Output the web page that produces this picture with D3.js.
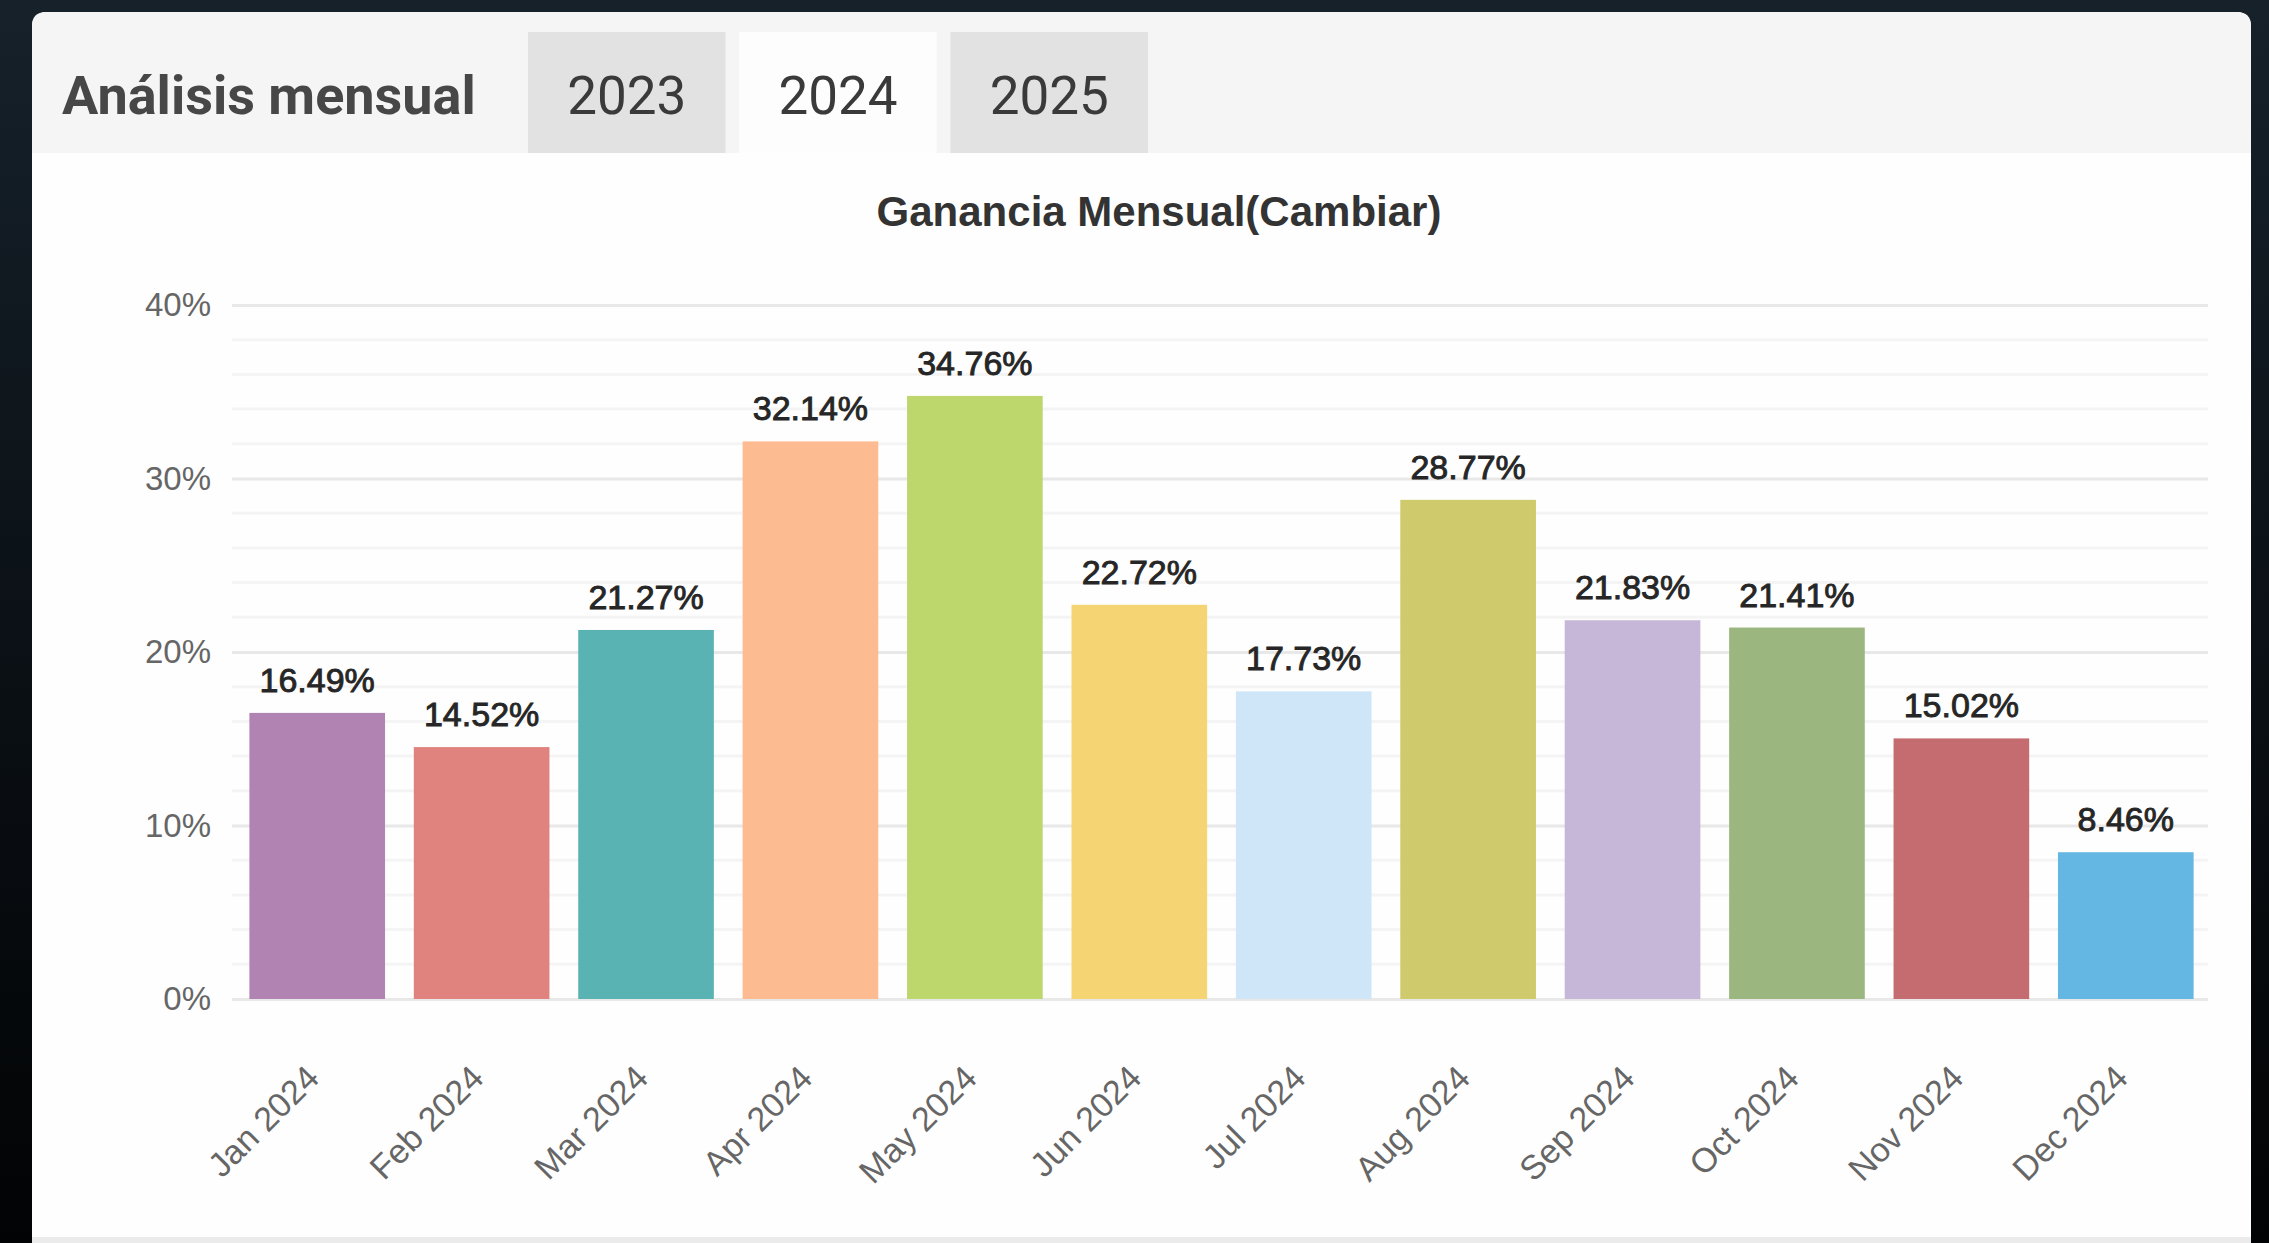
<!DOCTYPE html>
<html>
<head>
<meta charset="utf-8">
<script src="https://cdnjs.cloudflare.com/ajax/libs/d3/7.8.5/d3.min.js"></script>
<style>
  body { margin: 0; background: #05090c; overflow: hidden; }
</style>
</head>
<body>
<div class="canvas"></div>
<script>
// chart data.
const months = ['Jan 2024','Feb 2024','Mar 2024','Apr 2024','May 2024','Jun 2024',
                'Jul 2024','Aug 2024','Sep 2024','Oct 2024','Nov 2024','Dec 2024'];
const gains = [16.49, 14.52, 21.27, 32.14, 34.76, 22.72, 17.73, 28.77, 21.83, 21.41, 15.02, 8.46];
const barColors = ['#b183b3','#e0837f','#5ab3b3','#fdbb92','#bdd76c','#f5d474',
                   '#cfe5f8','#cfcb6c','#c6b6d8','#9cb67f','#c56c70','#65b7e3'];
const years = ['2023','2024','2025'];
const activeYear = '2024';
const yTicks = [0, 10, 20, 30, 40];
const yMinorTicks = d3.range(0, 41, 2);
const headerTitle = 'Análisis mensual';
const chartTitle = 'Ganancia Mensual(Cambiar)';

// dimensions.
const svgDimensions = { width: 2269, height: 1243 };
const card = { left: 32, right: 2251, top: 12, header: 153 };
const plot = { left: 235, right: 2208, top: 305, bottom: 999 };

const svg = d3.select('.canvas')
    .append('svg')
        .attr('width', svgDimensions.width)
        .attr('height', svgDimensions.height)
        .style('display', 'block');

// dark page background.
const bg = svg.append('defs').append('linearGradient')
    .attr('id', 'bg').attr('x1', 0).attr('y1', 0).attr('x2', 0).attr('y2', 1);
bg.append('stop').attr('offset', 0).attr('stop-color', '#16212a');
bg.append('stop').attr('offset', 0.5).attr('stop-color', '#0b1116');
bg.append('stop').attr('offset', 1).attr('stop-color', '#020304');
svg.append('rect')
    .attr('width', svgDimensions.width)
    .attr('height', svgDimensions.height)
    .attr('fill', 'url(#bg)');

// card with the header band.
svg.append('rect')
    .attr('x', card.left).attr('y', card.top)
    .attr('width', card.right - card.left)
    .attr('height', svgDimensions.height - card.top + 20)
    .attr('rx', 14)
    .attr('fill', '#fefefe');
svg.append('path')
    .attr('d', `M${card.left},${card.header} V${card.top + 14} Q${card.left},${card.top} ${card.left + 14},${card.top}
                H${card.right - 14} Q${card.right},${card.top} ${card.right},${card.top + 14} V${card.header} Z`)
    .attr('fill', '#f5f5f5');
svg.append('rect')
    .attr('x', card.left).attr('y', 1237)
    .attr('width', card.right - card.left).attr('height', 6)
    .attr('fill', '#ebebeb');

svg.append('text')
    .attr('x', 62).attr('y', 114)
    .attr('font-family', 'Roboto, sans-serif')
    .attr('font-weight', 'bold')
    .attr('font-size', 54)
    .attr('fill', '#474747')
    .text(headerTitle);

// year tabs.
const tabX = d3.scaleBand()
    .domain(years)
    .range([528, 1148])
    .paddingInner(0.065);

const tabs = svg.append('g').selectAll('g')
    .data(years)
    .enter()
    .append('g');

tabs.append('rect')
    .attr('x', d => tabX(d))
    .attr('y', 32)
    .attr('width', tabX.bandwidth())
    .attr('height', card.header - 32)
    .attr('fill', d => d === activeYear ? '#fdfdfd' : '#e2e2e2');

tabs.append('text')
    .attr('x', d => tabX(d) + tabX.bandwidth() / 2)
    .attr('y', 114)
    .attr('text-anchor', 'middle')
    .attr('font-family', 'Roboto, sans-serif')
    .attr('font-size', 53)
    .attr('fill', '#3a3a3a')
    .text(d => d);

// chart title.
svg.append('text')
    .attr('x', 1159).attr('y', 226)
    .attr('text-anchor', 'middle')
    .attr('font-family', '"Liberation Sans", Arial, sans-serif')
    .attr('font-weight', 'bold')
    .attr('font-size', 42)
    .attr('fill', '#333')
    .text(chartTitle);

// scales.
const x = d3.scaleBand()
    .domain(months)
    .range([plot.left, plot.right])
    .paddingInner(0.175)
    .paddingOuter(0.0875);

const y = d3.scaleLinear()
    .domain([0, 40])
    .range([plot.bottom, plot.top]);

const graph = svg.append('g');

// grid lines.
graph.append('g').selectAll('line')
    .data(yMinorTicks.filter(t => t % 10 !== 0))
    .enter()
    .append('line')
        .attr('x1', plot.left - 3).attr('x2', plot.right)
        .attr('y1', d => y(d)).attr('y2', d => y(d))
        .attr('stroke', '#f4f4f4')
        .attr('stroke-width', 3);

const yAxis = d3.axisLeft(y)
    .tickValues(yTicks)
    .tickSize(-(plot.right - plot.left + 3))
    .tickPadding(21)
    .tickFormat(d => d + '%');

graph.append('g')
    .attr('transform', `translate(${plot.left - 3},0)`)
    .call(yAxis)
    .call(g => g.select('.domain').remove())
    .call(g => g.selectAll('.tick line').attr('stroke', '#e8e8e8').attr('stroke-width', 3))
    .call(g => g.selectAll('.tick text')
        .attr('font-family', '"Liberation Sans", Arial, sans-serif')
        .attr('font-size', 33)
        .attr('fill', '#666'));

// bars.
graph.append('g').selectAll('rect')
    .data(months)
    .enter()
    .append('rect')
        .attr('x', d => x(d))
        .attr('y', (d, i) => y(gains[i]))
        .attr('width', x.bandwidth())
        .attr('height', (d, i) => y(0) - y(gains[i]))
        .attr('fill', (d, i) => barColors[i]);

// value labels above bars.
graph.append('g').selectAll('text')
    .data(months)
    .enter()
    .append('text')
        .attr('x', d => x(d) + x.bandwidth() / 2)
        .attr('y', (d, i) => y(gains[i]) - 21)
        .attr('text-anchor', 'middle')
        .attr('font-family', '"Liberation Sans", Arial, sans-serif')
        .attr('font-size', 34)
        .attr('fill', '#262626')
        .attr('stroke', '#262626')
        .attr('stroke-width', 0.9)
        .text((d, i) => gains[i].toFixed(2) + '%');

// rotated category labels.
graph.append('g').selectAll('text')
    .data(months)
    .enter()
    .append('text')
        .attr('transform', d => `translate(${x(d) + x.bandwidth() / 2 + 4},1080) rotate(-45)`)
        .attr('text-anchor', 'end')
        .attr('font-family', '"Liberation Sans", Arial, sans-serif')
        .attr('font-size', 34)
        .attr('fill', '#666')
        .text(d => d);
</script>
</body>
</html>
